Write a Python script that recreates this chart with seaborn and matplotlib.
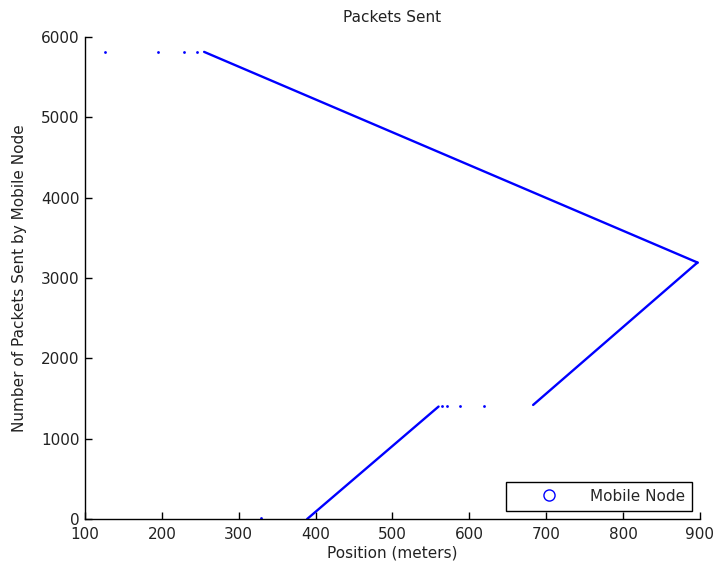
import matplotlib
matplotlib.use('Agg')
import matplotlib.pyplot as plt
from matplotlib.lines import Line2D
import seaborn as sns

# position (m) / packets sent
seg1_x = [389, 560]
seg1_y = [0, 1400]
seg2_x = [683, 894, 897]
seg2_y = [1420, 3170, 3192]
seg3_x = [897, 255]
seg3_y = [3192, 5815]

# isolated points
dots_x = [329, 564, 571, 588, 619, 126, 195, 229, 246]
dots_y = [8, 1410, 1410, 1410, 1410, 5815, 5815, 5815, 5815]

x_ticks = [100, 200, 300, 400, 500, 600, 700, 800, 900]
y_ticks = [0, 1000, 2000, 3000, 4000, 5000, 6000]

sns.set_style('ticks')
plt.rcParams['font.family'] = ['DejaVu Sans']
plt.rcParams['xtick.direction'] = 'in'
plt.rcParams['ytick.direction'] = 'in'

BLUE = '#0000ff'
TXT = '#222222'
FS = 11

fig = plt.figure(figsize=(7.14, 5.73), dpi=100)
ax = fig.add_axes([0.119, 0.0942, 0.8613, 0.8412])

for xs, ys in [(seg1_x, seg1_y), (seg2_x, seg2_y), (seg3_x, seg3_y)]:
    sns.lineplot(x=xs, y=ys, sort=False, estimator=None, color=BLUE,
                 linewidth=1.7, ax=ax)
sns.scatterplot(x=dots_x, y=dots_y, color=BLUE, s=4, linewidth=0, ax=ax)

ax.set_xlim(100, 900)
ax.set_ylim(0, 6000)
ax.set_xticks(x_ticks)
ax.set_yticks(y_ticks)
ax.tick_params(axis='both', labelsize=FS, length=5, width=1, color='black',
               labelcolor=TXT)
ax.tick_params(axis='x', pad=6)
ax.tick_params(axis='y', pad=4)
for s in ['top', 'right']:
    ax.spines[s].set_visible(False)
for s in ['left', 'bottom']:
    ax.spines[s].set_color('black')
    ax.spines[s].set_linewidth(1)

ax.set_title('Packets Sent', fontsize=FS, color=TXT, pad=11)
ax.set_xlabel('Position (meters)', fontsize=FS, color=TXT, labelpad=2)
ax.set_ylabel('Number of Packets Sent by Mobile Node', fontsize=FS,
              color=TXT, labelpad=10)

handle = Line2D([], [], linestyle='none', marker='o', markersize=8,
                markerfacecolor='none', markeredgecolor=BLUE, markeredgewidth=1)
leg = ax.legend(handles=[handle], labels=['Mobile Node'], loc='lower right',
                fontsize=FS, fancybox=False, framealpha=1, edgecolor='black',
                handlelength=4.7, handletextpad=0.3, borderpad=0.45,
                borderaxespad=0.55)
leg.get_frame().set_linewidth(1)

fig.savefig('out.png', dpi=100)
